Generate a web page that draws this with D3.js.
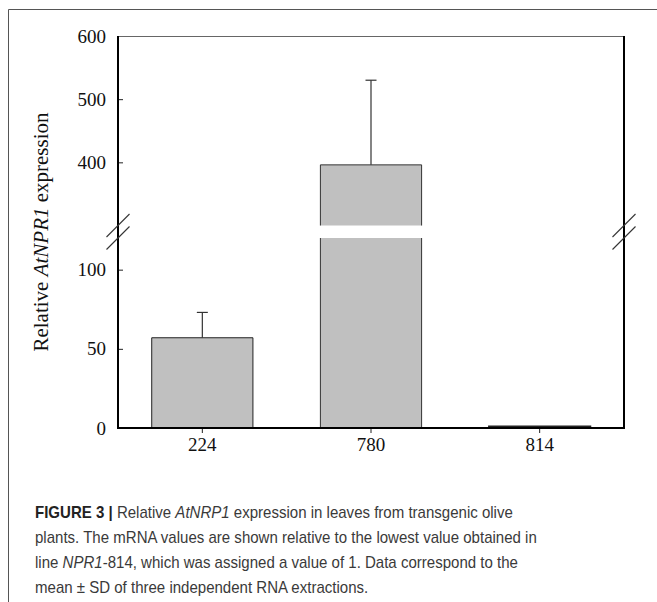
<!doctype html>
<html>
<head>
<meta charset="utf-8">
<style>
    body { margin: 0; background: #fff; }
    .tick text { font-family: "Liberation Serif", "Times New Roman", serif; font-size: 19px; fill: #111; }
    .caption { font-family: "Liberation Sans", Arial, sans-serif; font-size: 16px; fill: #3a3a3a; }
</style>
<script src="https://d3js.org/d3.v7.min.js"></script>
</head>
<body>
<svg id="chart" width="657" height="602"></svg>
<script>
    // transgenic lines, mean relative expression and SD
    var lines = ["224", "780", "814"];
    var means = [57, 396, 1];
    var sds = [16, 134, 0];
    var lowTicks = [0, 50, 100];
    var highTicks = [400, 500, 600];
    var lowDomain = [0, 120],
        highDomain = [300, 600];

    var svg = d3.select("#chart"),
        plotLeft = 118, plotRight = 624,
        plotTop = 36, plotBottom = 428,
        breakHigh = 225.5, breakLow = 238;

    // outer frame (top and left only)
    svg.append("path")
       .attr("d", "M8.5,602 L8.5,9.5 L657,9.5")
       .attr("fill", "none")
       .attr("stroke", "#555")
       .attr("stroke-width", 1);

    var x = d3.scaleBand().domain(lines).range([plotLeft, plotRight]).paddingInner(0.4).paddingOuter(0.2),
        yLow = d3.scaleLinear().domain(lowDomain).range([plotBottom, breakLow]),
        yHigh = d3.scaleLinear().domain(highDomain).range([breakHigh, plotTop]);

    var data = lines.map(function(d, i) { return {line: d, mean: means[i], sd: sds[i]}; });

    // bars
    var g = svg.append("g");
    data.forEach(function(d) {
        var x0 = x(d.line), x1 = x0 + x.bandwidth();
        var lowTop = d.mean > lowDomain[1] ? breakLow : yLow(d.mean);
        g.append("rect")
         .attr("x", x0).attr("y", lowTop)
         .attr("width", x.bandwidth()).attr("height", plotBottom - lowTop)
         .attr("fill", "#c0c0c0");
        if (d.mean > lowDomain[1]) {
            // broken bar: open edges at the break
            g.append("path")
             .attr("d", "M" + x0 + "," + plotBottom + " L" + x0 + "," + breakLow +
                        " M" + x1 + "," + breakLow + " L" + x1 + "," + plotBottom)
             .attr("fill", "none").attr("stroke", "#333").attr("stroke-width", 1);
            g.append("rect")
             .attr("x", x0).attr("y", yHigh(d.mean))
             .attr("width", x.bandwidth()).attr("height", breakHigh - yHigh(d.mean))
             .attr("fill", "#c0c0c0");
            g.append("path")
             .attr("d", "M" + x0 + "," + breakHigh + " L" + x0 + "," + yHigh(d.mean) +
                        " L" + x1 + "," + yHigh(d.mean) + " L" + x1 + "," + breakHigh)
             .attr("fill", "none").attr("stroke", "#333").attr("stroke-width", 1);
        } else {
            g.append("path")
             .attr("d", "M" + x0 + "," + plotBottom + " L" + x0 + "," + lowTop +
                        " L" + x1 + "," + lowTop + " L" + x1 + "," + plotBottom)
             .attr("fill", "none").attr("stroke", "#222")
             .attr("stroke-width", d.mean < 3 ? 2 : 1);
        }
    });

    // error bars (upper half only)
    function yOf(v) { return v > lowDomain[1] ? yHigh(v) : yLow(v); }
    data.filter(function(d) { return d.sd > 0; }).forEach(function(d) {
        var cx = x(d.line) + x.bandwidth() / 2;
        g.append("line")
         .attr("x1", cx).attr("x2", cx)
         .attr("y1", yOf(d.mean)).attr("y2", yOf(d.mean + d.sd))
         .attr("stroke", "#333").attr("stroke-width", 1.2);
        g.append("line")
         .attr("x1", cx - 5.5).attr("x2", cx + 5.5)
         .attr("y1", yOf(d.mean + d.sd)).attr("y2", yOf(d.mean + d.sd))
         .attr("stroke", "#333").attr("stroke-width", 1.2);
    });

    // y axes, ticks pointing inward
    var axLow = svg.append("g")
       .attr("transform", "translate(" + plotLeft + ",0)")
       .call(d3.axisLeft(yLow).tickValues(lowTicks).tickSizeInner(-5).tickSizeOuter(0).tickPadding(12));
    var axHigh = svg.append("g")
       .attr("transform", "translate(" + plotLeft + ",0)")
       .call(d3.axisLeft(yHigh).tickValues(highTicks).tickSizeInner(-5).tickSizeOuter(0).tickPadding(12));
    axLow.select(".domain").remove();
    axHigh.select(".domain").remove();

    // x axis
    var axX = svg.append("g")
       .attr("transform", "translate(0," + plotBottom + ")")
       .call(d3.axisBottom(x).tickSizeInner(5).tickSizeOuter(0).tickPadding(5));
    axX.select(".domain").remove();
    svg.selectAll(".tick line").attr("stroke", "#222");
    svg.selectAll("g").attr("font-family", null).attr("font-size", null);

    // plot frame
    svg.append("line")
       .attr("x1", plotLeft).attr("x2", plotRight).attr("y1", plotTop + 0.5).attr("y2", plotTop + 0.5)
       .attr("stroke", "#666").attr("stroke-width", 1);
    svg.append("path")
       .attr("d", "M" + plotLeft + "," + plotTop + " L" + plotLeft + "," + plotBottom +
                  " L" + plotRight + "," + plotBottom + " L" + plotRight + "," + plotTop)
       .attr("fill", "none")
       .attr("stroke", "#000")
       .attr("stroke-width", 2);

    // axis break marks
    [plotLeft, plotRight].forEach(function(bx) {
        [breakHigh, breakLow].forEach(function(by) {
            svg.append("line")
               .attr("x1", bx - 11.5).attr("y1", by + 11.5)
               .attr("x2", bx + 11.5).attr("y2", by - 11.5)
               .attr("stroke", "#333").attr("stroke-width", 1.1);
        });
    });

    // y axis title
    var yt = svg.append("text")
       .attr("transform", "translate(48," + ((plotTop + plotBottom) / 2) + ") rotate(-90)")
       .attr("text-anchor", "middle")
       .attr("font-family", "Liberation Serif, Times New Roman, serif")
       .attr("font-size", "21px")
       .attr("fill", "#111");
    yt.append("tspan").text("Relative ");
    yt.append("tspan").attr("font-style", "italic").text("AtNPR1");
    yt.append("tspan").text(" expression");

    // caption (slightly condensed face)
    var cap = svg.append("g").attr("class", "caption")
       .attr("transform", "translate(35,0) scale(0.94,1)");
    var l1 = cap.append("text").attr("x", 0).attr("y", 518);
    l1.append("tspan").attr("font-weight", "bold").attr("fill", "#222").text("FIGURE 3 |");
    l1.append("tspan").text(" Relative ");
    l1.append("tspan").attr("font-style", "italic").text("AtNRP1");
    l1.append("tspan").text(" expression in leaves from transgenic olive");
    cap.append("text").attr("x", 0).attr("y", 543)
       .text("plants. The mRNA values are shown relative to the lowest value obtained in");
    var l3 = cap.append("text").attr("x", 0).attr("y", 568);
    l3.append("tspan").text("line ");
    l3.append("tspan").attr("font-style", "italic").text("NPR1");
    l3.append("tspan").text("-814, which was assigned a value of 1. Data correspond to the");
    cap.append("text").attr("x", 0).attr("y", 593)
       .text("mean \u00b1 SD of three independent RNA extractions.");
</script>
</body>
</html>
